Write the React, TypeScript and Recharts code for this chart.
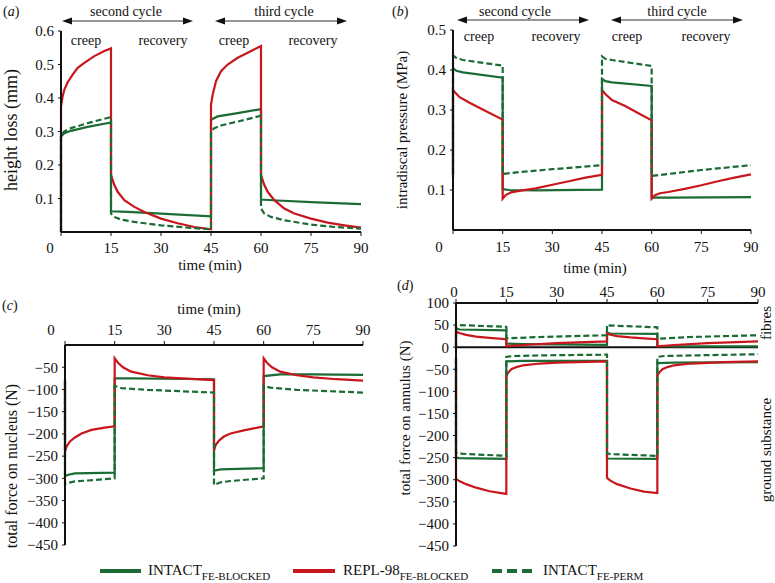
import { LineChart, Line, XAxis, YAxis, ReferenceLine } from "recharts";

type Pt = [number, number];

// time axis shared by all four panels (min)
const timeTicks = [0, 15, 30, 45, 60, 75, 90];
const heightTicks = [0.1, 0.2, 0.3, 0.4, 0.5, 0.6];
const pressureTicks = [0.1, 0.2, 0.3, 0.4, 0.5];
const nucleusTicks = [-450, -400, -350, -300, -250, -200, -150, -100, -50];
const annulusTicks = [-450, -400, -350, -300, -250, -200, -150, -100, -50, 0, 50, 100];

// (a) height loss (mm)
const aIntactBlocked: Pt[] = [
  [0, 0], [0, 0.285], [1, 0.295], [3, 0.302], [8, 0.314], [15, 0.327],
  [15, 0.062], [20, 0.06], [30, 0.055], [45, 0.047],
  [45, 0.335], [47, 0.345], [53, 0.355], [60, 0.367],
  [60, 0.097], [65, 0.094], [75, 0.089], [90, 0.083],
];
const aRepl: Pt[] = [
  [0, 0], [0, 0.375], [0.5, 0.405], [1, 0.425], [2, 0.447], [3.5, 0.47], [5, 0.49], [7, 0.505],
  [10, 0.525], [13, 0.54], [15, 0.548],
  [15, 0.17], [16, 0.14], [17, 0.12], [19, 0.095], [22, 0.075], [25, 0.06], [30, 0.04],
  [35, 0.026], [40, 0.015], [45, 0.008],
  [45, 0.38], [45.5, 0.41], [46.5, 0.45], [48, 0.48], [50, 0.5], [53, 0.52], [56, 0.535], [60, 0.555],
  [60, 0.17], [61, 0.14], [62, 0.12], [64, 0.095], [67, 0.07], [70, 0.055], [75, 0.04],
  [80, 0.028], [85, 0.02], [90, 0.013],
];
const aIntactPerm: Pt[] = [
  [0, 0], [0, 0.29], [1, 0.3], [3, 0.31], [8, 0.325], [15, 0.343],
  [15, 0.055], [16, 0.045], [18, 0.037], [22, 0.03], [30, 0.02], [38, 0.013], [45, 0.008],
  [45, 0.3], [46, 0.31], [48, 0.318], [54, 0.332], [60, 0.347],
  [60, 0.07], [61, 0.055], [63, 0.045], [67, 0.035], [75, 0.022], [82, 0.015], [90, 0.01],
];

// (b) intradiscal pressure (MPa)
const bIntactBlocked: Pt[] = [
  [0, 0.13], [0, 0.405], [1, 0.398], [3, 0.394], [15, 0.381],
  [15, 0.102], [17, 0.1], [25, 0.099], [45, 0.101],
  [45, 0.378], [46, 0.372], [48, 0.369], [60, 0.36],
  [60, 0.081], [65, 0.081], [90, 0.082],
];
const bRepl: Pt[] = [
  [0, 0.14], [0, 0.35], [0.5, 0.345], [2, 0.332], [5, 0.318], [10, 0.297], [15, 0.276],
  [15, 0.078], [16, 0.088], [17.5, 0.094], [20, 0.098], [25, 0.104], [30, 0.113], [35, 0.122],
  [40, 0.131], [45, 0.138],
  [45, 0.35], [46, 0.34], [48, 0.325], [52, 0.31], [56, 0.292], [60, 0.274],
  [60, 0.078], [61, 0.087], [62.5, 0.092], [65, 0.095], [70, 0.103], [75, 0.112], [80, 0.122],
  [85, 0.131], [90, 0.139],
];
const bIntactPerm: Pt[] = [
  [0, 0.14], [0, 0.436], [1, 0.43], [3, 0.425], [15, 0.411],
  [15, 0.14], [20, 0.145], [30, 0.152], [45, 0.162],
  [45, 0.434], [46, 0.428], [48, 0.425], [60, 0.41],
  [60, 0.135], [65, 0.14], [75, 0.15], [90, 0.162],
];

// (c) total force on nucleus (N)
const cIntactBlocked: Pt[] = [
  [0, -80], [0, -295], [1, -292], [3, -289], [15, -287],
  [15, -75], [20, -75], [45, -77],
  [45, -283], [47, -280], [60, -277],
  [60, -70], [65, -66], [75, -66], [90, -67],
];
const cRepl: Pt[] = [
  [0, -80], [0, -240], [0.5, -228], [1.5, -217], [3, -208], [5, -199], [8, -191], [12, -186], [15, -183],
  [15, -30], [16, -40], [17.5, -50], [20, -60], [25, -68], [30, -73], [38, -76], [45, -79],
  [45, -237], [45.5, -225], [46.5, -215], [48, -206], [50, -199], [54, -192], [60, -183],
  [60, -30], [61, -40], [62.5, -50], [65, -60], [70, -68], [75, -73], [82, -77], [90, -80],
];
const cIntactPerm: Pt[] = [
  [0, -80], [0, -313], [1, -310], [3, -307], [15, -300],
  [15, -92], [17, -97], [25, -101], [35, -104], [45, -107],
  [45, -315], [47, -309], [50, -306], [60, -300],
  [60, -92], [62, -96], [70, -101], [80, -104], [90, -107],
];

// (d) total force on annulus (N): fibres (positive) and ground substance (negative)
const dFibreIntactBlocked: Pt[] = [
  [0, 0], [0, 43], [1, 40], [15, 38], [15, 8], [20, 7], [45, 5],
  [45, 33], [46, 31], [60, 30], [60, 3], [65, 2], [90, 2],
];
const dFibreRepl: Pt[] = [
  [0, 0], [0, 35], [1, 32], [3, 28], [6, 24], [10, 21], [15, 18],
  [15, 2], [20, 5], [30, 9], [45, 13],
  [45, 31], [46, 28], [48, 25], [52, 22], [56, 20], [60, 18],
  [60, 2], [65, 5], [75, 9], [90, 13],
];
const dFibrePerm: Pt[] = [
  [0, 0], [0, 52], [1, 50], [15, 46], [15, 20], [25, 23], [35, 25], [45, 27],
  [45, 51], [46, 49], [60, 45], [60, 19], [70, 23], [80, 25], [90, 27],
];
const dGroundIntactBlocked: Pt[] = [
  [0, -25], [0, -250], [1, -251], [15, -253], [15, -32], [20, -31], [45, -31],
  [45, -252], [60, -253], [60, -36], [65, -35], [90, -34],
];
const dGroundRepl: Pt[] = [
  [0, -25], [0, -298], [1, -303], [3, -310], [6, -318], [10, -326], [15, -332],
  [15, -65], [15.5, -58], [16.5, -50], [18, -45], [20, -41], [25, -37], [30, -35], [45, -32],
  [45, -296], [46, -302], [48, -310], [52, -320], [56, -327], [60, -330],
  [60, -65], [60.5, -58], [61.5, -50], [63, -45], [65, -41], [70, -37], [80, -34], [90, -32],
];
const dGroundPerm: Pt[] = [
  [0, -25], [0, -239], [1, -241], [15, -246], [15, -22], [17, -20], [30, -18], [45, -17],
  [45, -240], [46, -242], [60, -246], [60, -22], [62, -20], [75, -18], [90, -16],
];

const GREEN = "#1b6b34";
const RED = "#c8161d";
const FONT = "Liberation Serif, Times New Roman, Tinos, DejaVu Serif, Noto Serif, Nimbus Roman, FreeSerif, serif";

const rows = (pts: Pt[]) => pts.map(([t, v]) => ({ t, v }));
const minus = (v: number) => String(v).replace("-", "\u2212");

function lines(solid: Pt[], repl: Pt[], perm: Pt[], key: string) {
  return [
    <Line key={key + "s"} data={rows(solid)} dataKey="v" type="linear" stroke={GREEN} strokeWidth={2.2} dot={false} isAnimationActive={false} />,
    <Line key={key + "r"} data={rows(repl)} dataKey="v" type="linear" stroke={RED} strokeWidth={2.2} dot={false} isAnimationActive={false} />,
    <Line key={key + "p"} data={rows(perm)} dataKey="v" type="linear" stroke={GREEN} strokeWidth={2.2} strokeDasharray="6 3" dot={false} isAnimationActive={false} />,
  ];
}

const timeTick = (shift: number, dy: number) => (props: any) => {
  const { x, y, payload } = props;
  return (
    <text x={x + (payload.value === 0 ? shift : 0)} y={y + dy} textAnchor="middle" dominantBaseline="central" fontSize={15} fill="#111" style={{ fontFamily: FONT }}>
      {payload.value}
    </text>
  );
};

const axisLine = { stroke: "#111", strokeWidth: 2 };
const yTick = { fontSize: 15, fill: "#111", style: { fontFamily: FONT } };

function Arrow({ x1, x2, y }: { x1: number; x2: number; y: number }) {
  return (
    <g>
      <line x1={x1 + 8} x2={x2 - 8} y1={y} y2={y} stroke="#333" strokeWidth={1.2} />
      <polygon points={`${x1},${y} ${x1 + 10},${y - 3.5} ${x1 + 10},${y + 3.5}`} fill="#111" />
      <polygon points={`${x2},${y} ${x2 - 10},${y - 3.5} ${x2 - 10},${y + 3.5}`} fill="#111" />
    </g>
  );
}

export default function App() {
  return (
    <div style={{ position: "absolute", left: 0, top: 0, width: 775, height: 583, background: "#fff", fontFamily: FONT }}>
      {/* (a) */}
      <div style={{ position: "absolute", left: 0, top: 0 }}>
        <LineChart width={390} height={275} margin={{ top: 31, right: 29, left: 11, bottom: 18 }}>
          <XAxis dataKey="t" type="number" domain={[0, 90]} ticks={timeTicks} height={25} tickSize={4} tickMargin={0} axisLine={axisLine} tickLine={{ stroke: "#111" }} tick={timeTick(-11, 12)} interval={0} />
          <YAxis type="number" domain={[0, 0.6]} ticks={heightTicks} width={50} tickSize={3} tickMargin={4} axisLine={axisLine} tickLine={{ stroke: "#111" }} tick={yTick} interval={0} />
          {lines(aIntactBlocked, aRepl, aIntactPerm, "a")}
        </LineChart>
      </div>
      {/* (b) */}
      <div style={{ position: "absolute", left: 385, top: 0 }}>
        <LineChart width={390} height={275} margin={{ top: 30, right: 24, left: 13, bottom: 20 }}>
          <XAxis dataKey="t" type="number" domain={[0, 90]} ticks={timeTicks} height={25} tickSize={4} tickMargin={0} axisLine={axisLine} tickLine={{ stroke: "#111" }} tick={timeTick(-14, 13)} interval={0} />
          <YAxis type="number" domain={[0, 0.5]} ticks={pressureTicks} width={55} tickSize={3} tickMargin={4} axisLine={axisLine} tickLine={{ stroke: "#111" }} tick={yTick} interval={0} />
          {lines(bIntactBlocked, bRepl, bIntactPerm, "b")}
        </LineChart>
      </div>
      {/* (c) */}
      <div style={{ position: "absolute", left: 0, top: 290 }}>
        <LineChart width={390} height={270} margin={{ top: 30, right: 27, left: 10, bottom: 15 }}>
          <XAxis dataKey="t" type="number" orientation="top" domain={[0, 90]} ticks={timeTicks} height={25} tickSize={4} tickMargin={0} axisLine={axisLine} tickLine={{ stroke: "#111" }} tick={timeTick(-14, -11)} interval={0} />
          <YAxis type="number" domain={[-450, 0]} ticks={nucleusTicks} width={55} tickSize={3} tickMargin={4} axisLine={axisLine} tickLine={{ stroke: "#111" }} tick={yTick} tickFormatter={minus} interval={0} />
          {lines(cIntactBlocked, cRepl, cIntactPerm, "c")}
        </LineChart>
      </div>
      {/* (d) */}
      <div style={{ position: "absolute", left: 385, top: 280 }}>
        <LineChart width={390} height={280} margin={{ top: 3, right: 17, left: 11, bottom: 14 }}>
          <XAxis dataKey="t" type="number" orientation="top" domain={[0, 90]} ticks={timeTicks} height={20} tickSize={4} tickMargin={0} axisLine={axisLine} tickLine={{ stroke: "#111" }} tick={timeTick(-2, -7)} interval={0} />
          <YAxis type="number" domain={[-450, 100]} ticks={annulusTicks} width={60} tickSize={3} tickMargin={4} axisLine={axisLine} tickLine={{ stroke: "#111" }} tick={yTick} tickFormatter={minus} interval={0} />
          <ReferenceLine y={0} stroke="#111" strokeWidth={2} />
          {lines(dFibreIntactBlocked, dFibreRepl, dFibrePerm, "df")}
          {lines(dGroundIntactBlocked, dGroundRepl, dGroundPerm, "dg")}
        </LineChart>
      </div>

      <svg width={775} height={583} style={{ position: "absolute", left: 0, top: 0, pointerEvents: "none", fontFamily: FONT }} fill="#111">
        {/* panel letters */}
        <text x={3} y={16} fontSize={14}>(<tspan fontStyle="italic">a</tspan>)</text>
        <text x={392} y={16} fontSize={14}>(<tspan fontStyle="italic">b</tspan>)</text>
        <text x={2} y={310} fontSize={14}>(<tspan fontStyle="italic">c</tspan>)</text>
        <text x={397} y={290} fontSize={14}>(<tspan fontStyle="italic">d</tspan>)</text>

        {/* cycle annotations (a) */}
        <text x={126} y={16} fontSize={14} textAnchor="middle">second cycle</text>
        <Arrow x1={62} x2={193} y={21} />
        <text x={284} y={16} fontSize={14} textAnchor="middle">third cycle</text>
        <Arrow x1={215} x2={347} y={21} />
        <text x={86} y={45} fontSize={14} textAnchor="middle">creep</text>
        <text x={163} y={45} fontSize={14} textAnchor="middle">recovery</text>
        <text x={234} y={45} fontSize={14} textAnchor="middle">creep</text>
        <text x={313} y={45} fontSize={14} textAnchor="middle">recovery</text>

        {/* cycle annotations (b) */}
        <text x={515} y={16} fontSize={14} textAnchor="middle">second cycle</text>
        <Arrow x1={457} x2={589} y={20} />
        <text x={677} y={16} fontSize={14} textAnchor="middle">third cycle</text>
        <Arrow x1={611} x2={743} y={20} />
        <text x={479} y={41} fontSize={14} textAnchor="middle">creep</text>
        <text x={556} y={41} fontSize={14} textAnchor="middle">recovery</text>
        <text x={627} y={41} fontSize={14} textAnchor="middle">creep</text>
        <text x={706} y={41} fontSize={14} textAnchor="middle">recovery</text>

        {/* axis titles */}
        <text x={210} y={270} fontSize={15} textAnchor="middle">time (min)</text>
        <text x={595} y={273} fontSize={15} textAnchor="middle">time (min)</text>
        <text x={209} y={314} fontSize={15} textAnchor="middle">time (min)</text>
        <text transform="translate(17,130) rotate(-90)" fontSize={18} textAnchor="middle">height loss (mm)</text>
        <text transform="translate(407,130) rotate(-90)" fontSize={15} textAnchor="middle">intradiscal pressure (MPa)</text>
        <text transform="translate(17,466) rotate(-90)" fontSize={16} textAnchor="middle">total force on nucleus (N)</text>
        <text transform="translate(410,418) rotate(-90)" fontSize={15} textAnchor="middle">total force on annulus (N)</text>
        <text transform="translate(771,323) rotate(-90)" fontSize={15} textAnchor="middle">fibres</text>
        <text transform="translate(771,450) rotate(-90)" fontSize={15} textAnchor="middle">ground substance</text>

        {/* legend */}
        <line x1={100} x2={141} y1={571} y2={571} stroke={GREEN} strokeWidth={4} />
        <text x={148} y={575} fontSize={15}>INTACT<tspan fontSize={11} dy={5}>FE-BLOCKED</tspan></text>
        <line x1={293} x2={335} y1={571} y2={571} stroke={RED} strokeWidth={4} />
        <text x={343} y={575} fontSize={15}>REPL-98<tspan fontSize={11} dy={5}>FE-BLOCKED</tspan></text>
        <line x1={492} x2={533} y1={571} y2={571} stroke={GREEN} strokeWidth={4} strokeDasharray="10 5" />
        <text x={543} y={575} fontSize={15}>INTACT<tspan fontSize={11} dy={5}>FE-PERM</tspan></text>
      </svg>
    </div>
  );
}
